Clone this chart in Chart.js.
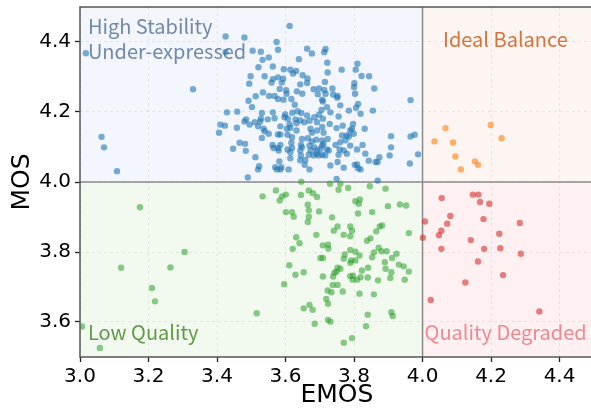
<!DOCTYPE html>
<html>
<head>
<meta charset="utf-8">
<script src="https://cdn.jsdelivr.net/npm/chart.js@4.4.1/dist/chart.umd.min.js"></script>
<style>
  html, body { margin: 0; padding: 0; background: #fff; overflow: hidden; }
  #wrap { width: 597px; height: 409px; position: relative; }
</style>
</head>
<body>
<div id="wrap"><canvas id="chart"></canvas></div>
<script>
// axis ticks and ranges
const xTicks = [3.0, 3.2, 3.4, 3.6, 3.8, 4.0, 4.2, 4.4];
const yTicks = [3.6, 3.8, 4.0, 4.2, 4.4];
const xRange = [3.0, 4.5];
const yRange = [3.5, 4.5];
const splitAt = 4.0;

// [EMOS, MOS]
const highStability = [
  [3.017,4.368],[3.425,4.416],[3.425,4.371],[3.330,4.265],[3.429,4.199],[3.410,4.164],[3.423,4.161],
  [3.406,4.141],[3.063,4.129],[3.070,4.099],[3.108,4.031],
  [3.612,4.446],[3.480,4.413],[3.574,4.400],[3.578,4.378],[3.504,4.375],[3.528,4.372],[3.663,4.381],
  [3.677,4.367],[3.533,4.349],[3.551,4.356],[3.639,4.351],[3.521,4.328],[3.563,4.330],[3.595,4.322],
  [3.614,4.321],[3.631,4.317],[3.622,4.310],[3.498,4.302],[3.539,4.302],[3.578,4.299],[3.563,4.294],
  [3.593,4.295],[3.650,4.305],[3.664,4.296],[3.494,4.281],[3.559,4.284],[3.589,4.284],[3.663,4.283],
  [3.643,4.279],[3.583,4.266],[3.602,4.262],[3.603,4.252],[3.682,4.265],[3.698,4.267],[3.713,4.263],
  [3.694,4.251],[3.633,4.259],[3.649,4.252],[3.513,4.245],[3.534,4.256],[3.552,4.246],[3.568,4.246],
  [3.578,4.237],[3.594,4.235],[3.617,4.237],[3.492,4.232],
  [3.717,4.380],[3.713,4.371],[3.722,4.341],[3.810,4.338],[3.805,4.321],[3.764,4.321],[3.723,4.313],
  [3.822,4.303],[3.844,4.302],[3.715,4.286],[3.801,4.282],[3.800,4.271],[3.859,4.267],[3.737,4.267],
  [3.717,4.252],[3.739,4.250],[3.752,4.246],[3.751,4.241],[3.803,4.252],[3.965,4.234],[3.707,4.235],
  [3.502,4.214],[3.627,4.221],[3.709,4.230],[3.459,4.201],[3.531,4.197],[3.563,4.199],[3.599,4.193],
  [3.620,4.198],[3.635,4.202],[3.646,4.197],[3.663,4.190],[3.705,4.206],[3.698,4.192],[3.485,4.179],
  [3.480,4.173],[3.510,4.171],[3.528,4.181],[3.526,4.173],[3.548,4.179],[3.495,4.164],[3.520,4.159],
  [3.536,4.152],[3.539,4.145],[3.568,4.182],[3.585,4.159],[3.597,4.185],[3.607,4.181],[3.612,4.165],
  [3.629,4.179],[3.632,4.168],[3.643,4.176],[3.655,4.171],[3.670,4.175],[3.692,4.171],[3.684,4.185],
  [3.709,4.181],[3.458,4.155],[3.604,4.152],[3.632,4.147],[3.614,4.155],[3.673,4.152],[3.677,4.141],
  [3.692,4.147],[3.707,4.157],[3.711,4.141],[3.531,4.126],[3.551,4.138],[3.578,4.136],[3.585,4.136],
  [3.606,4.135],[3.619,4.128],[3.648,4.123],[3.665,4.125],[3.677,4.116],[3.690,4.121],[3.707,4.119],
  [3.466,4.112],[3.482,4.109],[3.562,4.106],[3.565,4.097],[3.585,4.106],[3.578,4.097],[3.617,4.112],
  [3.619,4.097],[3.614,4.085],[3.645,4.106],[3.643,4.090],[3.648,4.099],[3.670,4.104],[3.673,4.090],
  [3.684,4.099],[3.692,4.090],[3.702,4.095],[3.707,4.104],[3.711,4.109],[3.447,4.095],[3.484,4.089],
  [3.580,4.090],[3.614,4.068],[3.606,4.093],[3.645,4.076],[3.643,4.062],[3.658,4.063],[3.668,4.078],
  [3.682,4.076],[3.690,4.081],[3.697,4.076],[3.707,4.078],[3.512,4.071],[3.582,4.059],[3.523,4.045],
  [3.520,4.036],[3.570,4.042],[3.575,4.036],[3.588,4.042],[3.585,4.036],[3.609,4.036],[3.656,4.049],
  [3.670,4.036],[3.490,4.013],
  [3.760,4.219],[3.785,4.204],[3.806,4.212],[3.812,4.223],[3.819,4.195],[3.855,4.204],[3.731,4.199],
  [3.721,4.214],[3.755,4.187],[3.729,4.166],[3.749,4.154],[3.767,4.161],[3.797,4.166],[3.794,4.152],
  [3.789,4.147],[3.831,4.152],[3.765,4.133],[3.779,4.133],[3.799,4.138],[3.785,4.130],[3.723,4.123],
  [3.760,4.114],[3.746,4.106],[3.775,4.119],[3.789,4.104],[3.809,4.093],[3.825,4.106],[3.908,4.131],
  [3.965,4.130],[3.977,4.135],[3.908,4.099],[3.721,4.093],[3.726,4.090],[3.716,4.076],[3.758,4.093],
  [3.755,4.078],[3.770,4.090],[3.779,4.081],[3.833,4.081],[3.843,4.061],[3.863,4.057],[3.869,4.057],
  [3.874,4.071],[3.904,4.076],[3.987,4.079],[3.731,4.047],[3.752,4.057],[3.770,4.041],[3.802,4.049],
  [3.809,4.050],[3.812,4.039],[3.819,4.036],[3.963,4.053],[3.749,4.009],[3.869,4.004]
];

const idealBalance = [
  [4.067,4.154],[4.035,4.116],[4.089,4.113],[4.096,4.073],[4.112,4.036],
  [4.153,4.059],[4.162,4.049],[4.199,4.163],[4.231,4.125]
];

const lowQuality = [
  [3.175,3.928],[3.305,3.800],[3.120,3.755],[3.264,3.756],[3.210,3.697],[3.219,3.659],[3.516,3.625],
  [3.006,3.587],[3.058,3.526],
  [3.646,4.001],[3.730,3.995],[3.533,3.959],[3.572,3.976],[3.590,3.959],[3.583,3.947],[3.601,3.964],
  [3.645,3.963],[3.668,3.976],[3.680,3.968],[3.692,3.957],[3.755,3.978],[3.601,3.914],[3.619,3.914],
  [3.624,3.901],[3.665,3.935],[3.668,3.919],[3.668,3.901],[3.665,3.886],[3.698,3.916],[3.736,3.899],
  [3.752,3.873],[3.741,3.861],[3.631,3.842],[3.690,3.849],[3.641,3.825],[3.621,3.809],[3.709,3.819],
  [3.724,3.821],[3.725,3.810],[3.702,3.783],[3.709,3.783],[3.611,3.762],[3.752,3.755],
  [3.783,3.983],[3.760,3.995],[3.846,3.988],[3.892,3.981],[3.804,3.945],[3.814,3.938],[3.817,3.950],
  [3.812,3.910],[3.853,3.914],[3.899,3.931],[3.934,3.936],[3.952,3.933],[3.770,3.849],[3.789,3.873],
  [3.794,3.861],[3.789,3.845],[3.865,3.859],[3.875,3.873],[3.882,3.876],[3.848,3.839],[3.838,3.832],
  [3.960,3.854],[3.789,3.806],[3.804,3.801],[3.816,3.790],[3.804,3.776],[3.792,3.776],[3.789,3.769],
  [3.770,3.781],[3.773,3.793],[3.858,3.799],[3.872,3.812],[3.880,3.802],[3.895,3.802],[3.853,3.785],
  [3.924,3.795],[3.911,3.783],[3.890,3.771],[3.892,3.752],[3.931,3.764],[3.945,3.759],[3.841,3.755],
  [3.823,3.747],[3.760,3.752],
  [3.629,3.735],[3.653,3.742],[3.596,3.708],[3.709,3.730],[3.739,3.730],[3.743,3.741],[3.749,3.744],
  [3.738,3.706],[3.752,3.706],[3.723,3.690],[3.734,3.685],[3.719,3.666],[3.724,3.652],[3.653,3.639],
  [3.670,3.649],[3.679,3.635],[3.724,3.606],[3.731,3.601],[3.685,3.595],
  [3.789,3.731],[3.797,3.732],[3.796,3.721],[3.809,3.721],[3.819,3.728],[3.840,3.727],[3.870,3.719],
  [3.909,3.742],[3.906,3.726],[3.960,3.744],[3.948,3.721],[3.767,3.687],[3.816,3.681],[3.858,3.679],
  [3.840,3.621],[3.835,3.588],[3.909,3.628],[3.913,3.617],[3.794,3.554],[3.770,3.541]
];

const qualityDegraded = [
  [4.007,3.887],[4.001,3.841],[4.056,3.954],[4.147,3.964],[4.163,3.964],[4.168,3.943],[4.195,3.938],
  [4.081,3.903],[4.072,3.881],[4.178,3.894],[4.284,3.883],[4.055,3.861],[4.048,3.848],[4.224,3.852],
  [4.141,3.834],[4.055,3.809],[4.180,3.809],[4.227,3.811],[4.287,3.795],[4.162,3.773],[4.235,3.734],
  [4.125,3.713],[4.024,3.663],[4.341,3.630]
];

const toPoints = arr => arr.map(p => ({x: p[0], y: p[1]}));
const tickFont = {family: 'DejaVu Sans', size: 20};
const titleFont = {family: 'DejaVu Sans', size: 25, lineHeight: 1};

// quadrant shading, split lines, corner labels and the axes frame
const quadrants = {
  id: 'quadrants',
  beforeDraw(chart) {
    const {ctx, chartArea: a, scales: {x, y}} = chart;
    const sx = x.getPixelForValue(splitAt), sy = y.getPixelForValue(splitAt);
    ctx.save();
    ctx.fillStyle = '#f3f6fc'; ctx.fillRect(a.left, a.top, sx - a.left, sy - a.top);
    ctx.fillStyle = '#fdf5f2'; ctx.fillRect(sx, a.top, a.right - sx, sy - a.top);
    ctx.fillStyle = '#f2f9ef'; ctx.fillRect(a.left, sy, sx - a.left, a.bottom - sy);
    ctx.fillStyle = '#fff0f2'; ctx.fillRect(sx, sy, a.right - sx, a.bottom - sy);
    ctx.restore();
  },
  beforeDatasetsDraw(chart) {
    const {ctx, chartArea: a, scales: {x, y}} = chart;
    const sx = x.getPixelForValue(splitAt), sy = y.getPixelForValue(splitAt);
    ctx.save();
    ctx.strokeStyle = '#8a8a8a';
    ctx.lineWidth = 1.5;
    ctx.beginPath();
    ctx.moveTo(sx, a.top); ctx.lineTo(sx, a.bottom);
    ctx.moveTo(a.left, sy); ctx.lineTo(a.right, sy);
    ctx.stroke();

    ctx.font = '20px "Noto Sans CJK SC"';
    ctx.textBaseline = 'alphabetic';
    ctx.textAlign = 'left';
    const px = v => x.getPixelForValue(v), py = v => y.getPixelForValue(v);
    ctx.fillStyle = '#7088ab';
    ctx.fillText('High Stability', px(3.023), py(4.423));
    ctx.fillText('Under-expressed', px(3.023), py(4.351));
    ctx.fillStyle = '#d4733a';
    ctx.fillText('Ideal Balance', px(4.06), py(4.387));
    ctx.fillStyle = '#5f9a48';
    ctx.fillText('Low Quality', px(3.023), py(3.549));
    ctx.fillStyle = '#f08890';
    ctx.fillText('Quality Degraded', px(4.006), py(3.549));
    ctx.restore();
  },
  afterDraw(chart) {
    const {ctx, chartArea: a} = chart;
    ctx.save();
    ctx.strokeStyle = '#555';
    ctx.lineWidth = 1.5;
    ctx.beginPath();
    ctx.moveTo(a.right + 2, a.top); ctx.lineTo(a.left, a.top);
    ctx.lineTo(a.left, a.bottom); ctx.lineTo(a.right + 2, a.bottom);
    ctx.stroke();
    ctx.restore();
  }
};

const series = (label, data, color) => ({
  label, data: toPoints(data),
  backgroundColor: color, borderWidth: 0,
  pointRadius: 3.2, pointHoverRadius: 3.2
});

new Chart(document.getElementById('chart'), {
  type: 'scatter',
  data: {
    datasets: [
      series('High Stability Under-expressed', highStability, 'rgba(31,119,180,0.6)'),
      series('Ideal Balance', idealBalance, 'rgba(255,127,14,0.6)'),
      series('Low Quality', lowQuality, 'rgba(44,160,44,0.55)'),
      series('Quality Degraded', qualityDegraded, 'rgba(214,39,40,0.58)')
    ]
  },
  options: {
    responsive: true,
    maintainAspectRatio: false,
    animation: false,
    layout: {padding: {top: 7, right: 0, bottom: 0, left: 0}},
    plugins: {legend: {display: false}, tooltip: {enabled: false}},
    scales: {
      x: {
        type: 'linear', min: xRange[0], max: xRange[1],
        afterBuildTicks: s => { s.ticks = xTicks.map(v => ({value: v})); },
        afterFit: s => { s.height = 52; s.paddingLeft = 0; s.paddingRight = 0; },
        ticks: {font: tickFont, color: '#000', padding: 3, maxRotation: 0,
                callback: v => Number(v).toFixed(1)},
        grid: {color: 'rgba(0,0,0,0.09)', lineWidth: 0.8, tickLength: 5,
               tickColor: '#222', tickWidth: 1.3, tickBorderDash: []},
        border: {display: false, dash: [3, 3]},
        title: {display: true, text: 'EMOS', font: titleFont, color: '#000',
                padding: {top: 0, bottom: 1}}
      },
      y: {
        type: 'linear', min: yRange[0], max: yRange[1],
        afterBuildTicks: s => { s.ticks = yTicks.map(v => ({value: v})); },
        afterFit: s => { s.width = 80; s.paddingTop = 0; s.paddingBottom = 0; },
        ticks: {font: tickFont, color: '#000', padding: 4,
                callback: v => Number(v).toFixed(1)},
        grid: {color: 'rgba(0,0,0,0.09)', lineWidth: 0.8, tickLength: 5,
               tickColor: '#222', tickWidth: 1.3, tickBorderDash: []},
        border: {display: false, dash: [3, 3]},
        title: {display: true, text: 'MOS', font: titleFont, color: '#000',
                padding: {top: 10, bottom: 0}}
      }
    }
  },
  plugins: [quadrants]
});
</script>
</body>
</html>
